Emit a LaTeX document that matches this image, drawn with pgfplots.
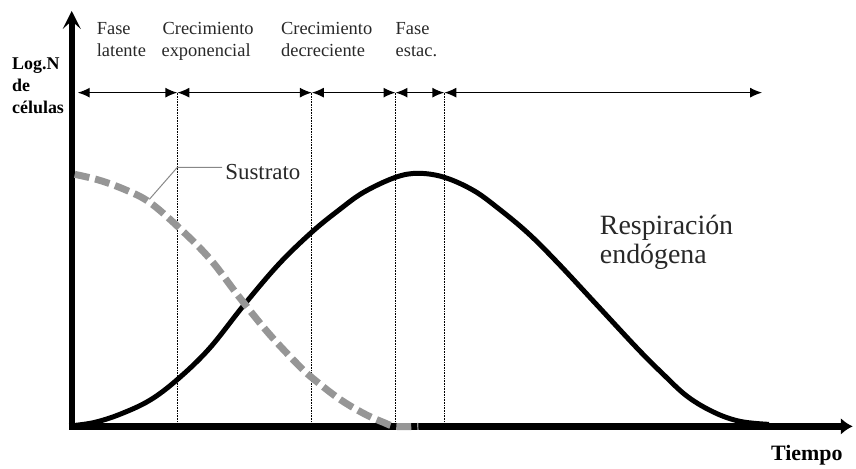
\documentclass[border=0pt]{standalone}
\usepackage{pgfplots}
\pgfplotsset{compat=1.18}
\usepackage{fontspec}
\setmainfont{Liberation Serif}
\usetikzlibrary{arrows.meta}
\definecolor{subgray}{RGB}{150,150,150}
\definecolor{txt}{RGB}{40,40,40}
\begin{document}
\begin{tikzpicture}
\begin{axis}[
  width=856pt, height=470pt, scale only axis,
  xmin=0, xmax=856, ymin=0, ymax=470,
  y dir=reverse, hide axis, clip=false,
]
\path (axis cs:0,0) rectangle (axis cs:856,470);
% phase boundary lines
\addplot[black, line width=1pt, dash pattern=on 1pt off 0.6pt] coordinates {(178,93) (178,428)};
\addplot[black, line width=1pt, dash pattern=on 1pt off 0.6pt] coordinates {(313,93) (313,428)};
\addplot[black, line width=1pt, dash pattern=on 1pt off 0.6pt] coordinates {(397,93) (397,428)};
\addplot[black, line width=1pt, dash pattern=on 1pt off 0.6pt] coordinates {(446,93) (446,428)};
% phase arrows
\addplot[black, line width=1.3pt, {Latex[length=12pt,width=10pt]}-{Latex[length=12pt,width=10pt]}] coordinates {(78,93) (178,93)};
\addplot[black, line width=1.3pt, {Latex[length=12pt,width=10pt]}-{Latex[length=12pt,width=10pt]}] coordinates {(178,93) (313,93)};
\addplot[black, line width=1.3pt, {Latex[length=12pt,width=10pt]}-{Latex[length=12pt,width=10pt]}] coordinates {(313,93) (397,93)};
\addplot[black, line width=1.3pt, {Latex[length=12pt,width=10pt]}-{Latex[length=12pt,width=10pt]}] coordinates {(397,93) (446,93)};
\addplot[black, line width=1.3pt, {Latex[length=12pt,width=10pt]}-{Latex[length=12pt,width=10pt]}] coordinates {(446,93) (765,93)};
% axes
\addplot[black, line width=6pt, -{Stealth[length=18pt,width=18pt,inset=8pt]}] coordinates {(72,431) (72,11)};
\addplot[black, line width=6.5pt, -{Latex[length=12pt,width=17pt]}] coordinates {(69,428) (856,428)};
% population curve
\addplot[black, line width=5pt, smooth, tension=0.6] coordinates {
 (75,427) (95,424) (120,416) (150,402) (178,381) (210,350) (245,306)
 (280,265) (313,233) (340,211) (365,193) (397,178) (420,174) (446,178)
 (475,191) (500,209) (530,234) (560,264) (600,307) (640,350) (665,375)
 (690,398) (717,414) (743,423) (772,426)};
% substrate curve
\addplot[subgray, line width=7pt, dash pattern=on 15pt off 6pt, smooth, tension=0.6] coordinates {
 (75,175) (100,181) (127,191) (150,203) (178,227) (210,259) (240,298)
 (270,335) (300,367) (313,379) (340,400) (365,415) (385,424) (397,428) (420,428)};
% leader for Sustrato
\addplot[subgray!90!black, line width=1pt] coordinates {(223,168) (178,168) (150,200)};
% texts
\node[anchor=base west, inner sep=0pt, text=txt, font=\fontsize{23}{26}\selectfont] at (axis cs:226,180) {Sustrato};
\node[anchor=base west, inner sep=0pt, text=txt, font=\fontsize{28}{30}\selectfont] at (axis cs:602,235) {Respiración};
\node[anchor=base west, inner sep=0pt, text=txt, font=\fontsize{28}{30}\selectfont] at (axis cs:602,264) {endógena};
\node[anchor=base east, inner sep=0pt, font=\fontsize{22}{24}\selectfont\bfseries] at (axis cs:846,462) {Tiempo};
\node[anchor=base west, inner sep=0pt, font=\fontsize{18}{20}\selectfont\bfseries] at (axis cs:12,70) {Log.N};
\node[anchor=base west, inner sep=0pt, font=\fontsize{18}{20}\selectfont\bfseries] at (axis cs:12,92) {de};
\node[anchor=base west, inner sep=0pt, font=\fontsize{18}{20}\selectfont\bfseries] at (axis cs:12,114) {células};
\node[anchor=base west, inner sep=0pt, text=txt, font=\fontsize{18.5}{20}\selectfont] at (axis cs:97,35) {Fase};
\node[anchor=base west, inner sep=0pt, text=txt, font=\fontsize{18.5}{20}\selectfont] at (axis cs:97,57) {latente};
\node[anchor=base west, inner sep=0pt, text=txt, font=\fontsize{18.5}{20}\selectfont] at (axis cs:163,35) {Crecimiento};
\node[anchor=base west, inner sep=0pt, text=txt, font=\fontsize{18.5}{20}\selectfont] at (axis cs:162,57) {exponencial};
\node[anchor=base west, inner sep=0pt, text=txt, font=\fontsize{18.5}{20}\selectfont] at (axis cs:282,35) {Crecimiento};
\node[anchor=base west, inner sep=0pt, text=txt, font=\fontsize{18.5}{20}\selectfont] at (axis cs:282,57) {decreciente};
\node[anchor=base west, inner sep=0pt, text=txt, font=\fontsize{18.5}{20}\selectfont] at (axis cs:397,35) {Fase};
\node[anchor=base west, inner sep=0pt, text=txt, font=\fontsize{18.5}{20}\selectfont] at (axis cs:397,57) {estac.};
\end{axis}
\end{tikzpicture}
\end{document}
